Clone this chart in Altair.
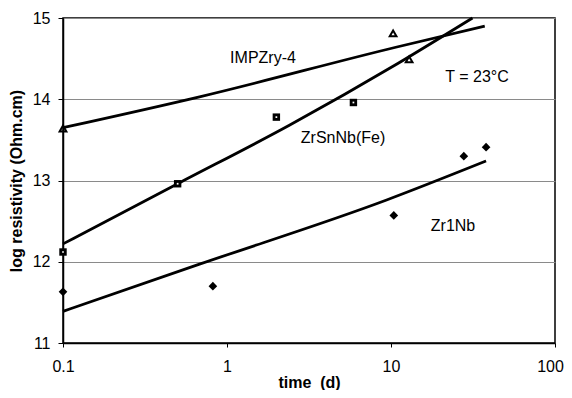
import altair as alt
import pandas as pd

# measured points
imp_t = [0.1, 10.3, 12.9]
imp_r = [13.64, 14.81, 14.49]
zsn_t = [0.1, 0.5, 2.0, 5.9]
zsn_r = [12.12, 12.96, 13.78, 13.96]
zr1_t = [0.1, 0.82, 10.4, 27.8, 38.0]
zr1_r = [11.63, 11.70, 12.57, 13.30, 13.41]

# trend lines
imp_fit_t = [0.1, 0.68, 10.7, 37.3]
imp_fit_r = [13.65, 14.03, 14.64, 14.90]
zsn_fit_t = [0.1, 0.5, 2.4, 11.0, 31.4]
zsn_fit_r = [12.22, 12.96, 13.68, 14.44, 15.0]
zr1_fit_t = [0.1, 0.68, 9.4, 38.0]
zr1_fit_r = [11.39, 11.97, 12.76, 13.24]

x_ticks = [0.1, 1, 10, 100]
y_ticks = [11, 12, 13, 14, 15]

imp = pd.DataFrame({"t": imp_t, "r": imp_r})
zsn = pd.DataFrame({"t": zsn_t, "r": zsn_r})
zr1 = pd.DataFrame({"t": zr1_t, "r": zr1_r})
fits = pd.concat([
    pd.DataFrame({"t": imp_fit_t, "r": imp_fit_r, "s": "IMPZry-4"}),
    pd.DataFrame({"t": zsn_fit_t, "r": zsn_fit_r, "s": "ZrSnNb(Fe)"}),
    pd.DataFrame({"t": zr1_fit_t, "r": zr1_fit_r, "s": "Zr1Nb"}),
])

FONT = "Liberation Sans"

X = alt.X("t:Q",
          scale=alt.Scale(type="log", domain=[0.1, 100], nice=False),
          axis=alt.Axis(values=x_ticks, format="~g", grid=False, tickSize=4,
                        labelPadding=11, title="time\u00a0 (d)", titlePadding=0,
                        labelFlush=False, labelOverlap=False,
                        labelOffset=alt.condition("datum.value == 100",
                                                  alt.value(-5), alt.value(0))))
Y = alt.Y("r:Q",
          scale=alt.Scale(domain=[11, 15], nice=False, zero=False),
          axis=alt.Axis(values=y_ticks, grid=True, tickSize=5, labelPadding=8,
                        title="log resistivity (Ohm.cm)", titlePadding=8,
                        labelFlush=False))

lines = alt.Chart(fits).mark_line(color="black", strokeWidth=2.8,
                                  interpolate="monotone").encode(
    x=X, y=Y, detail="s:N")

tri = alt.Chart(imp).mark_point(shape="triangle-up", filled=False, color="black",
                                size=45, strokeWidth=2, opacity=1).encode(x=X, y=Y)
sq = alt.Chart(zsn).mark_point(shape="square", filled=True, color="black",
                               size=55, opacity=1).encode(x=X, y=Y)
sq_in = alt.Chart(zsn).mark_point(shape="square", filled=True, color="white",
                                  size=3, opacity=1).encode(x=X, y=Y)
dia = alt.Chart(zr1).mark_point(shape="diamond", filled=True, color="black",
                                size=75, opacity=1).encode(x=X, y=Y)

one = pd.DataFrame({"a": [0]})


def label(txt, px, py):
    return alt.Chart(one).mark_text(text=txt, font=FONT, fontSize=16, color="black",
                                    align="center", baseline="middle").encode(
        x=alt.value(px), y=alt.value(py))


texts = [
    label("IMPZry-4", 200, 39.5),
    label("ZrSnNb(Fe)", 280, 119.5),
    label("T = 23°C", 414, 58.5),
    label("Zr1Nb", 390, 207.5),
]

chart = alt.layer(lines, tri, sq, sq_in, dia, *texts).properties(
    width=492, height=325,
    autosize=alt.AutoSizeParams(type="none"),
    padding={"left": 55, "top": 10, "right": 9, "bottom": 47},
    background="white",
).configure_view(
    stroke="black", strokeWidth=1.5
).configure_axis(
    domainColor="black", domainWidth=1.5, tickColor="black", tickWidth=1,
    labelFont=FONT, labelFontSize=16, labelColor="black",
    titleFont=FONT, titleFontSize=16, titleFontWeight="bold", titleColor="black",
    gridColor="#8a8a8a", gridWidth=1
)

chart.save("out.html", embed_options={"renderer": "svg", "actions": False})
